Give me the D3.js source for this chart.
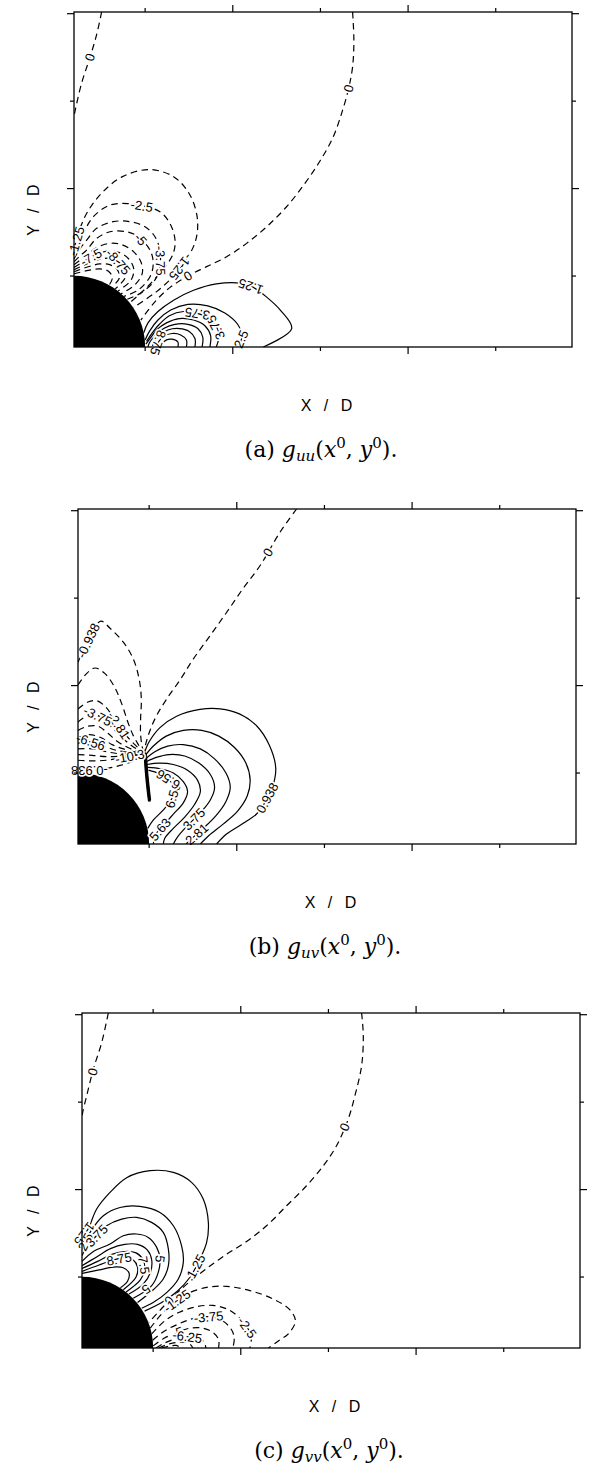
<!DOCTYPE html>
<html>
<head>
<meta charset="utf-8">
<script src="https://cdn.jsdelivr.net/npm/d3@7/dist/d3.min.js"></script>
<style>
  html, body { margin: 0; padding: 0; background: #fff; }
  svg { display: block; }
</style>
</head>
<body>
<svg id="fig" width="597" height="1468"></svg>
<script>
// ---- axes (units of D, cylinder of radius 0.5 centred at the origin) ----
const xDomain = [0, 3.5];
const yDomain = [0, 2.36];
const xTicks = [0.5, 1.116, 1.732, 2.348, 2.964];
const yTicks = [0.5, 1.116, 1.732, 2.348];
const majorTicks = [1.116, 2.348];
const cylinderRadius = 0.5;

const captionTags = ["(a)", "(b)", "(c)"];
const captionSubs = ["uu", "uv", "vv"];
const xAxisTitle = "X / D";
const yAxisTitle = "Y / D";

// ---- contour lines: level, polyline in (X/D, Y/D), label positions (vertex index) ----
const guuContours = [
  { level: 0, points: [[0.194,2.36],[0.159,2.2],[0.112,2.04],[0.054,1.86],[0.007,1.66],[0,1.62]], labels: [2] },
  { level: 0, points: [[1.958,2.36],[1.967,2.162],[1.958,1.974],[1.93,1.822],[1.888,1.669],[1.822,1.481],[1.733,1.317],[1.623,1.153],[1.494,0.988],[1.354,0.847],[1.213,0.73],[1.073,0.636],[0.932,0.566],[0.8,0.5],[0.675,0.42],[0.57,0.32],[0.47,0.19]], labels: [3, 13] },
  { level: -1.25, points: [[0,0.69],[0.04,0.83],[0.1,0.96],[0.2,1.09],[0.34,1.2],[0.53,1.25],[0.7,1.2],[0.81,1.08],[0.865,0.92],[0.86,0.77],[0.8,0.63],[0.7,0.5],[0.58,0.39],[0.42,0.28]], labels: [0.4, 10.5] },
  { level: -2.5, points: [[0,0.64],[0.066,0.8],[0.136,0.918],[0.253,1.0],[0.38,1.01],[0.5,0.99],[0.604,0.953],[0.674,0.871],[0.71,0.754],[0.698,0.66],[0.65,0.577],[0.56,0.47],[0.47,0.38],[0.39,0.31]], labels: [4.8] },
  { level: -3.75, points: [[0,0.62],[0.04,0.69],[0.089,0.753],[0.159,0.836],[0.276,0.883],[0.393,0.883],[0.499,0.847],[0.569,0.777],[0.604,0.683],[0.607,0.6],[0.595,0.53],[0.56,0.46],[0.47,0.38],[0.37,0.335]], labels: [8.9] },
  { level: -5, points: [[0,0.6],[0.04,0.64],[0.089,0.683],[0.159,0.765],[0.253,0.812],[0.37,0.812],[0.452,0.777],[0.534,0.683],[0.557,0.589],[0.534,0.495],[0.45,0.4],[0.35,0.357]], labels: [6.2] },
  { level: -6.25, points: [[0,0.58],[0.08,0.64],[0.16,0.7],[0.25,0.73],[0.34,0.72],[0.42,0.67],[0.47,0.6],[0.48,0.52],[0.43,0.44],[0.33,0.375]], labels: [] },
  { level: -7.5, points: [[0,0.56],[0.08,0.61],[0.16,0.655],[0.24,0.675],[0.32,0.665],[0.385,0.62],[0.42,0.55],[0.4,0.47],[0.31,0.395]], labels: [1.5] },
  { level: -8.75, points: [[0,0.545],[0.09,0.585],[0.17,0.615],[0.25,0.625],[0.31,0.6],[0.35,0.555],[0.36,0.49],[0.29,0.41]], labels: [4] },
  { level: -10, points: [[0,0.53],[0.1,0.565],[0.18,0.585],[0.25,0.58],[0.3,0.55],[0.32,0.49],[0.27,0.425]], labels: [] },
  { level: -12.5, points: [[0,0.515],[0.1,0.54],[0.18,0.55],[0.24,0.535],[0.27,0.49],[0.25,0.44]], labels: [] },
  { level: 1.25, points: [[1.33,0],[1.53,0.13],[1.45,0.26],[1.35,0.355],[1.26,0.42],[1.17,0.45],[1.0,0.445],[0.84,0.4],[0.7,0.33],[0.59,0.25],[0.52,0.17],[0.49,0.1]], labels: [4.2] },
  { level: 2.5, points: [[1.15,0],[1.18,0.07],[1.15,0.16],[1.06,0.24],[0.94,0.29],[0.8,0.3],[0.68,0.26],[0.59,0.19],[0.53,0.11],[0.5,0.05]], labels: [0.8] },
  { level: 3.75, points: [[1.0,0],[1.02,0.09],[0.98,0.17],[0.89,0.23],[0.77,0.25],[0.67,0.22],[0.6,0.16],[0.55,0.1],[0.51,0.04]], labels: [1.6, 3.2] },
  { level: 5, points: [[0.955,0],[0.96,0.08],[0.92,0.15],[0.84,0.19],[0.74,0.2],[0.65,0.17],[0.58,0.12],[0.535,0.06],[0.505,0.02]], labels: [] },
  { level: 6.25, points: [[0.9,0],[0.905,0.07],[0.87,0.13],[0.8,0.16],[0.71,0.16],[0.63,0.13],[0.57,0.08],[0.53,0.03],[0.52,0]], labels: [] },
  { level: 7.5, points: [[0.85,0],[0.85,0.06],[0.81,0.11],[0.74,0.13],[0.66,0.12],[0.6,0.08],[0.56,0.03],[0.55,0]], labels: [] },
  { level: 8.75, points: [[0.79,0],[0.79,0.05],[0.75,0.085],[0.69,0.095],[0.63,0.075],[0.59,0.03],[0.58,0]], labels: [5] },
  { level: 10, points: [[0.73,0],[0.73,0.035],[0.69,0.055],[0.65,0.05],[0.62,0.02],[0.615,0]], labels: [] }
];

const guvContours = [
  { level: 0, points: [[1.536,2.36],[1.419,2.195],[1.279,1.96],[1.16,1.8],[1.044,1.631],[0.93,1.47],[0.81,1.303],[0.72,1.16],[0.623,1.021],[0.55,0.9],[0.506,0.8],[0.475,0.7],[0.465,0.64]], labels: [1.6] },
  { level: -0.938, points: [[0,1.28],[0.08,1.45],[0.16,1.57],[0.225,1.52],[0.32,1.42],[0.39,1.3],[0.43,1.16],[0.445,1.02],[0.44,0.88],[0.44,0.77],[0.45,0.69],[0.46,0.645]], labels: [0.9] },
  { level: -1.88, points: [[0,1.12],[0.06,1.2],[0.12,1.24],[0.19,1.2],[0.26,1.1],[0.31,0.98],[0.35,0.86],[0.39,0.76],[0.43,0.69],[0.455,0.645]], labels: [] },
  { level: -2.81, points: [[0,0.95],[0.07,1.0],[0.13,1.01],[0.19,0.97],[0.25,0.89],[0.31,0.8],[0.37,0.73],[0.42,0.68],[0.45,0.65]], labels: [4.6] },
  { level: -3.75, points: [[0,0.86],[0.06,0.9],[0.12,0.91],[0.18,0.88],[0.25,0.81],[0.32,0.74],[0.38,0.69],[0.43,0.66],[0.45,0.648]], labels: [2.3] },
  { level: -4.69, points: [[0,0.8],[0.07,0.83],[0.14,0.83],[0.21,0.78],[0.28,0.72],[0.35,0.68],[0.41,0.655],[0.45,0.645]], labels: [] },
  { level: -5.63, points: [[0,0.75],[0.08,0.77],[0.16,0.75],[0.24,0.7],[0.32,0.67],[0.4,0.65],[0.45,0.643]], labels: [] },
  { level: -6.56, points: [[0,0.71],[0.09,0.72],[0.18,0.69],[0.27,0.66],[0.36,0.645],[0.45,0.64]], labels: [1] },
  { level: -7.5, points: [[0,0.67],[0.1,0.67],[0.2,0.65],[0.3,0.635],[0.45,0.635]], labels: [] },
  { level: -8.44, points: [[0,0.63],[0.1,0.625],[0.2,0.615],[0.32,0.62],[0.45,0.632]], labels: [] },
  { level: -10.3, points: [[0,0.59],[0.1,0.585],[0.2,0.59],[0.3,0.605],[0.38,0.62],[0.45,0.63]], labels: [3.8] },
  { level: -0.938, points: [[0.455,0.625],[0.4,0.59],[0.32,0.56],[0.24,0.54],[0.16,0.525],[0.08,0.52],[0,0.52]], labels: [5] },
  { level: 0.938, points: [[0.974,0],[1.044,0.07],[1.173,0.153],[1.255,0.211],[1.3,0.27],[1.36,0.38],[1.39,0.53],[1.345,0.695],[1.255,0.833],[1.138,0.915],[0.998,0.952],[0.857,0.948],[0.693,0.9],[0.576,0.82],[0.5,0.72],[0.465,0.64]], labels: [4.5] },
  { level: 1.88, points: [[0.86,0],[0.92,0.06],[1.02,0.14],[1.12,0.23],[1.19,0.34],[1.21,0.45],[1.18,0.57],[1.1,0.68],[0.99,0.76],[0.87,0.8],[0.74,0.8],[0.62,0.76],[0.53,0.69],[0.47,0.62]], labels: [] },
  { level: 2.81, points: [[0.76,0],[0.79,0.03],[0.88,0.11],[0.97,0.2],[1.04,0.3],[1.07,0.4],[1.04,0.5],[0.96,0.6],[0.86,0.67],[0.74,0.7],[0.63,0.69],[0.54,0.65],[0.475,0.6]], labels: [1.5] },
  { level: 3.75, points: [[0.67,0],[0.7,0.05],[0.77,0.13],[0.86,0.22],[0.93,0.31],[0.96,0.4],[0.93,0.49],[0.85,0.57],[0.75,0.62],[0.64,0.63],[0.55,0.61],[0.48,0.58]], labels: [2.5] },
  { level: 4.69, points: [[0.6,0],[0.61,0.04],[0.67,0.11],[0.75,0.19],[0.82,0.28],[0.86,0.37],[0.84,0.45],[0.77,0.52],[0.67,0.56],[0.57,0.57],[0.485,0.56]], labels: [] },
  { level: 5.63, points: [[0.53,0],[0.54,0.06],[0.6,0.13],[0.67,0.21],[0.74,0.29],[0.77,0.37],[0.74,0.44],[0.67,0.5],[0.58,0.53],[0.49,0.54]], labels: [1.6] },
  { level: 6.56, points: [[0.49,0.11],[0.53,0.17],[0.6,0.24],[0.66,0.32],[0.68,0.39],[0.64,0.45],[0.57,0.495],[0.495,0.52]], labels: [3.3, 5.1] },
  { level: 7.5, points: [[0.464,0.645],[0.474,0.5],[0.486,0.38],[0.496,0.3]], labels: [] },
  { level: 8.44, points: [[0.468,0.645],[0.478,0.5],[0.49,0.38],[0.5,0.3]], labels: [] },
  { level: 9.38, points: [[0.472,0.645],[0.482,0.5],[0.494,0.38],[0.504,0.3]], labels: [] },
  { level: 10.3, points: [[0.476,0.645],[0.486,0.5],[0.498,0.38],[0.508,0.3]], labels: [] },
  { level: 11.3, points: [[0.48,0.64],[0.49,0.5],[0.502,0.38],[0.51,0.31]], labels: [] }
];

const gvvContours = [
  { level: 0, points: [[0.185,2.36],[0.138,2.15],[0.08,1.965],[0.033,1.777],[0.005,1.66],[0,1.62]], labels: [2.1] },
  { level: 0, points: [[1.965,2.36],[1.977,2.2],[1.965,1.988],[1.918,1.777],[1.871,1.613],[1.789,1.425],[1.696,1.284],[1.578,1.143],[1.438,1.002],[1.297,0.861],[1.157,0.75],[1.016,0.66],[0.876,0.56],[0.76,0.47],[0.66,0.38],[0.58,0.3],[0.47,0.18]], labels: [4.3, 14.6] },
  { level: 1.25, points: [[0.44,0.26],[0.56,0.32],[0.67,0.4],[0.76,0.5],[0.829,0.627],[0.876,0.744],[0.888,0.885],[0.852,1.049],[0.77,1.167],[0.642,1.237],[0.478,1.249],[0.314,1.2],[0.197,1.096],[0.103,0.979],[0.044,0.84],[0,0.78]], labels: [3.6, 14.6] },
  { level: 2.5, points: [[0,0.7],[0.06,0.82],[0.15,0.932],[0.267,0.99],[0.407,0.998],[0.548,0.955],[0.642,0.861],[0.7,0.72],[0.712,0.603],[0.677,0.486],[0.595,0.39],[0.5,0.32],[0.42,0.28]], labels: [0.4] },
  { level: 3.75, points: [[0,0.65],[0.05,0.74],[0.103,0.791],[0.173,0.861],[0.279,0.908],[0.384,0.92],[0.489,0.885],[0.571,0.815],[0.607,0.697],[0.607,0.58],[0.571,0.486],[0.501,0.41],[0.39,0.32]], labels: [2] },
  { level: 5, points: [[0,0.61],[0.08,0.68],[0.197,0.732],[0.29,0.791],[0.384,0.803],[0.466,0.779],[0.525,0.709],[0.548,0.627],[0.536,0.533],[0.49,0.44],[0.36,0.35]], labels: [7, 9.3] },
  { level: 6.25, points: [[0,0.58],[0.1,0.64],[0.2,0.7],[0.3,0.73],[0.39,0.73],[0.46,0.69],[0.49,0.62],[0.48,0.53],[0.43,0.45],[0.33,0.38]], labels: [] },
  { level: 7.5, points: [[0,0.56],[0.11,0.61],[0.21,0.66],[0.3,0.68],[0.38,0.67],[0.43,0.62],[0.44,0.55],[0.41,0.48],[0.31,0.395]], labels: [5.5] },
  { level: 8.75, points: [[0,0.54],[0.12,0.585],[0.22,0.62],[0.3,0.635],[0.36,0.62],[0.39,0.57],[0.38,0.5],[0.29,0.41]], labels: [2.5] },
  { level: 10, points: [[0,0.525],[0.12,0.55],[0.22,0.57],[0.29,0.565],[0.33,0.53],[0.32,0.47],[0.27,0.425]], labels: [] },
  { level: -1.25, points: [[0.48,0.14],[0.56,0.24],[0.65,0.32],[0.735,0.38],[0.876,0.427],[1.016,0.434],[1.18,0.404],[1.344,0.345],[1.46,0.27],[1.5,0.19],[1.45,0.1],[1.38,0.05],[1.31,0]], labels: [2.2] },
  { level: -2.5, points: [[0.49,0.1],[0.58,0.19],[0.68,0.25],[0.8,0.29],[0.92,0.3],[1.03,0.27],[1.12,0.2],[1.17,0.13],[1.19,0.07],[1.18,0]], labels: [6.8] },
  { level: -3.75, points: [[0.497,0.055],[0.58,0.12],[0.68,0.17],[0.79,0.21],[0.9,0.22],[0.99,0.19],[1.05,0.13],[1.07,0.07],[1.06,0]], labels: [3.9] },
  { level: -5, points: [[0.5,0.015],[0.58,0.07],[0.67,0.11],[0.76,0.14],[0.85,0.14],[0.92,0.11],[0.96,0.06],[0.96,0]], labels: [2] },
  { level: -6.25, points: [[0.52,0],[0.58,0.035],[0.66,0.065],[0.74,0.08],[0.81,0.07],[0.86,0.04],[0.87,0]], labels: [3] },
  { level: -7.5, points: [[0.54,0],[0.6,0.025],[0.68,0.04],[0.75,0.035],[0.78,0]], labels: [] },
  { level: -8.75, points: [[0.56,0],[0.61,0.012],[0.66,0.018],[0.7,0]], labels: [] }
];

// ---- layout ----
const panelSets = [guuContours, guvContours, gvvContours];
const panelLeft = [74, 78, 82];
const panelTop = [12, 509, 1013];
const panelW = 498, panelH = 335;

const svg = d3.select("#fig");
const labelFont = "'Liberation Sans', 'DejaVu Sans', sans-serif";

panelSets.forEach((contours, pi) => {
  const left = panelLeft[pi], top = panelTop[pi];
  const x = d3.scaleLinear().domain(xDomain).range([left, left + panelW]);
  const y = d3.scaleLinear().domain(yDomain).range([top + panelH, top]);
  const g = svg.append("g").attr("class", "panel");

  const clipId = "frameClip" + pi;
  svg.append("defs").append("clipPath").attr("id", clipId)
    .append("rect").attr("x", left).attr("y", top).attr("width", panelW).attr("height", panelH);

  const line = d3.line()
    .x(d => x(d[0])).y(d => y(d[1]))
    .curve(d3.curveCatmullRom.alpha(0.5));

  const lines = g.append("g").attr("clip-path", `url(#${clipId})`);
  lines.selectAll("path").data(contours).join("path")
    .attr("d", d => line(d.points))
    .attr("fill", "none")
    .attr("stroke", "#000")
    .attr("stroke-width", 1.2)
    .attr("stroke-linejoin", "round")
    .attr("stroke-dasharray", d => d.level <= 0 ? "6.5,4.5" : null);

  // cylinder (quarter disc)
  const r = x(cylinderRadius) - x(0);
  g.append("path")
    .attr("transform", `translate(${x(0)},${y(0)})`)
    .attr("d", d3.arc()({ innerRadius: 0, outerRadius: r, startAngle: 0, endAngle: Math.PI / 2 }))
    .attr("fill", "#000");

  // contour labels placed along the polylines
  const labelData = [];
  contours.forEach(c => {
    (c.labels || []).forEach(at => {
      const i0 = Math.floor(at), i1 = Math.min(i0 + 1, c.points.length - 1);
      const t = at - i0;
      const p0 = [x(c.points[i0][0]), y(c.points[i0][1])];
      const p1 = [x(c.points[i1][0]), y(c.points[i1][1])];
      const px = p0[0] + (p1[0] - p0[0]) * t, py = p0[1] + (p1[1] - p0[1]) * t;
      const ang = Math.atan2(p1[1] - p0[1], p1[0] - p0[0]) * 180 / Math.PI;
      labelData.push({ px, py, ang, text: String(c.level) });
    });
  });
  g.append("g").selectAll("text").data(labelData).join("text")
    .attr("transform", d => `translate(${d.px},${d.py}) rotate(${d.ang})`)
    .attr("text-anchor", "middle")
    .attr("dy", "0.35em")
    .style("font-family", labelFont)
    .style("font-size", "13px")
    .attr("fill", "#000")
    .attr("stroke", "#fff")
    .attr("stroke-width", 3.5)
    .attr("stroke-linejoin", "round")
    .style("paint-order", "stroke")
    .text(d => d.text);

  // frame
  g.append("rect")
    .attr("x", left).attr("y", top).attr("width", panelW).attr("height", panelH)
    .attr("fill", "none").attr("stroke", "#000").attr("stroke-width", 1.3);

  // ticks, all pointing outwards
  const tickLen = v => majorTicks.includes(v) ? 7 : 4;
  const tg = g.append("g").attr("stroke", "#000").attr("stroke-width", 1.2);
  xTicks.forEach(v => {
    tg.append("line").attr("x1", x(v)).attr("x2", x(v)).attr("y1", top).attr("y2", top - tickLen(v));
    tg.append("line").attr("x1", x(v)).attr("x2", x(v)).attr("y1", top + panelH).attr("y2", top + panelH + tickLen(v));
  });
  yTicks.forEach(v => {
    tg.append("line").attr("y1", y(v)).attr("y2", y(v)).attr("x1", left).attr("x2", left - tickLen(v));
    tg.append("line").attr("y1", y(v)).attr("y2", y(v)).attr("x1", left + panelW).attr("x2", left + panelW + tickLen(v));
  });

  // axis titles
  const cx = left + panelW / 2;
  g.append("text")
    .attr("x", cx + 4).attr("y", top + panelH + 58)
    .attr("text-anchor", "middle").attr("dy", "0.35em")
    .style("font-family", labelFont).style("font-size", "16px")
    .style("letter-spacing", "1px").style("word-spacing", "6px")
    .text(xAxisTitle);
  g.append("text")
    .attr("transform", `translate(33,${top + panelH * 0.59}) rotate(-90)`)
    .attr("text-anchor", "middle").attr("dy", "0.35em")
    .style("font-family", labelFont).style("font-size", "16px")
    .style("letter-spacing", "1px").style("word-spacing", "6px")
    .text(yAxisTitle);

  // caption
  const cap = g.append("text")
    .attr("x", cx - 2).attr("y", top + panelH + 110)
    .attr("text-anchor", "middle")
    .style("font-family", "'DejaVu Serif', 'Liberation Serif', serif")
    .style("font-size", "22px");
  cap.append("tspan").text(captionTags[pi] + " ");
  cap.append("tspan").style("font-style", "italic").text("g");
  cap.append("tspan").style("font-style", "italic").style("font-size", "15px").attr("dy", 4).text(captionSubs[pi]);
  cap.append("tspan").attr("dy", -4).text("(");
  cap.append("tspan").style("font-style", "italic").text("x");
  cap.append("tspan").style("font-size", "15px").attr("dy", -9).text("0");
  cap.append("tspan").attr("dy", 9).text(", ");
  cap.append("tspan").style("font-style", "italic").text("y");
  cap.append("tspan").style("font-size", "15px").attr("dy", -9).text("0");
  cap.append("tspan").attr("dy", 9).text(").");
});
</script>
</body>
</html>
